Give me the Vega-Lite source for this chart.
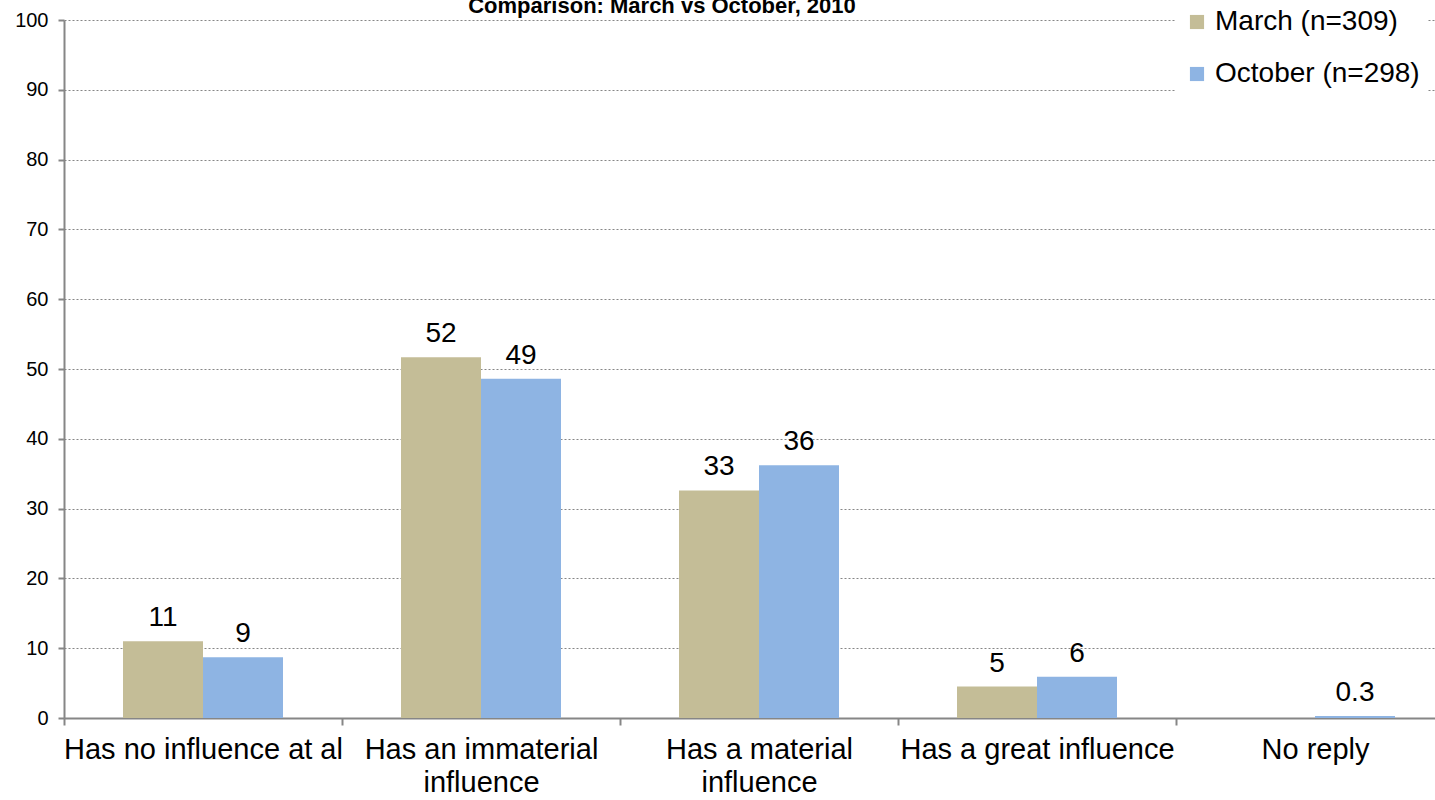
{
  "$schema": "https://vega.github.io/schema/vega-lite/v6.json",
  "width": 1390,
  "height": 698,
  "autosize": {"type": "none"},
  "padding": {"left": 64, "top": 20, "right": 0, "bottom": 82},
  "background": "white",
  "title": {
    "text": "Comparison: March vs October, 2010",
    "font": "Liberation Sans",
    "fontSize": 22,
    "fontWeight": "bold",
    "color": "black",
    "anchor": "middle",
    "baseline": "alphabetic",
    "offset": -10,
    "dx": -97,
    "dy": 25
  },
  "config": {
    "view": {"stroke": null},
    "font": "Liberation Sans"
  },
  "data": {
    "values": [
      {"category": "Has no influence at al", "period": "March (n=309)", "value": 11.0, "label": "11"},
      {"category": "Has no influence at al", "period": "October (n=298)", "value": 8.7, "label": "9"},
      {"category": "Has an immaterial influence", "period": "March (n=309)", "value": 51.7, "label": "52"},
      {"category": "Has an immaterial influence", "period": "October (n=298)", "value": 48.6, "label": "49"},
      {"category": "Has a material influence", "period": "March (n=309)", "value": 32.6, "label": "33"},
      {"category": "Has a material influence", "period": "October (n=298)", "value": 36.2, "label": "36"},
      {"category": "Has a great influence", "period": "March (n=309)", "value": 4.5, "label": "5"},
      {"category": "Has a great influence", "period": "October (n=298)", "value": 5.9, "label": "6"},
      {"category": "No reply", "period": "October (n=298)", "value": 0.3, "label": "0.3"}
    ]
  },
  "encoding": {
    "x": {
      "field": "category",
      "type": "nominal",
      "sort": null,
      "scale": {"paddingInner": 0, "paddingOuter": 0},
      "axis": {
        "title": null,
        "labelAngle": 0,
        "labelFontSize": 29,
        "labelColor": "black",
        "labelPadding": 10,
        "labelLineHeight": 33,
        "labelBaseline": "top",
        "labelLimit": 400,
        "labelExpr": "datum.label == 'Has an immaterial influence' ? ['Has an immaterial', 'influence'] : datum.label == 'Has a material influence' ? ['Has a material', 'influence'] : datum.label",
        "tickBand": "extent",
        "tickColor": "#868686",
        "tickSize": 7,
        "tickWidth": 2,
        "domainColor": "#868686",
        "domainWidth": 2,
        "grid": false
      }
    },
    "xOffset": {"field": "period", "type": "nominal", "scale": {"domain": ["March (n=309)", "October (n=298)"], "paddingInner": 0, "paddingOuter": 0.7375}},
    "y": {
      "field": "value",
      "type": "quantitative",
      "scale": {"domain": [0, 100], "nice": false},
      "axis": {
        "title": null,
        "values": [0, 10, 20, 30, 40, 50, 60, 70, 80, 90, 100],
        "labelFontSize": 20,
        "labelColor": "black",
        "labelPadding": 10,
        "tickColor": "#868686",
        "tickSize": 6,
        "tickWidth": 2,
        "domainColor": "#868686",
        "domainWidth": 2,
        "grid": true,
        "gridColor": "#868686",
        "gridDash": [2, 2],
        "gridWidth": 1
      }
    }
  },
  "layer": [
    {
      "mark": {"type": "bar"},
      "encoding": {
        "color": {
          "field": "period",
          "type": "nominal",
          "scale": {"domain": ["March (n=309)", "October (n=298)"], "range": ["#C4BD97", "#8EB4E3"]},
          "legend": {
            "title": null,
            "orient": "none",
            "legendX": 1111,
            "legendY": -20,
            "fillColor": "white",
            "padding": 8,
            "symbolType": "square",
            "symbolSize": 200,
            "symbolStrokeWidth": 0,
            "labelFontSize": 28,
            "labelColor": "black",
            "labelOffset": 4,
            "rowPadding": 24,
            "labelLimit": 400
          }
        }
      }
    },
    {
      "mark": {"type": "text", "fontSize": 28, "baseline": "alphabetic", "dy": -15, "color": "black"},
      "encoding": {
        "text": {"field": "label"}
      }
    }
  ]
}
